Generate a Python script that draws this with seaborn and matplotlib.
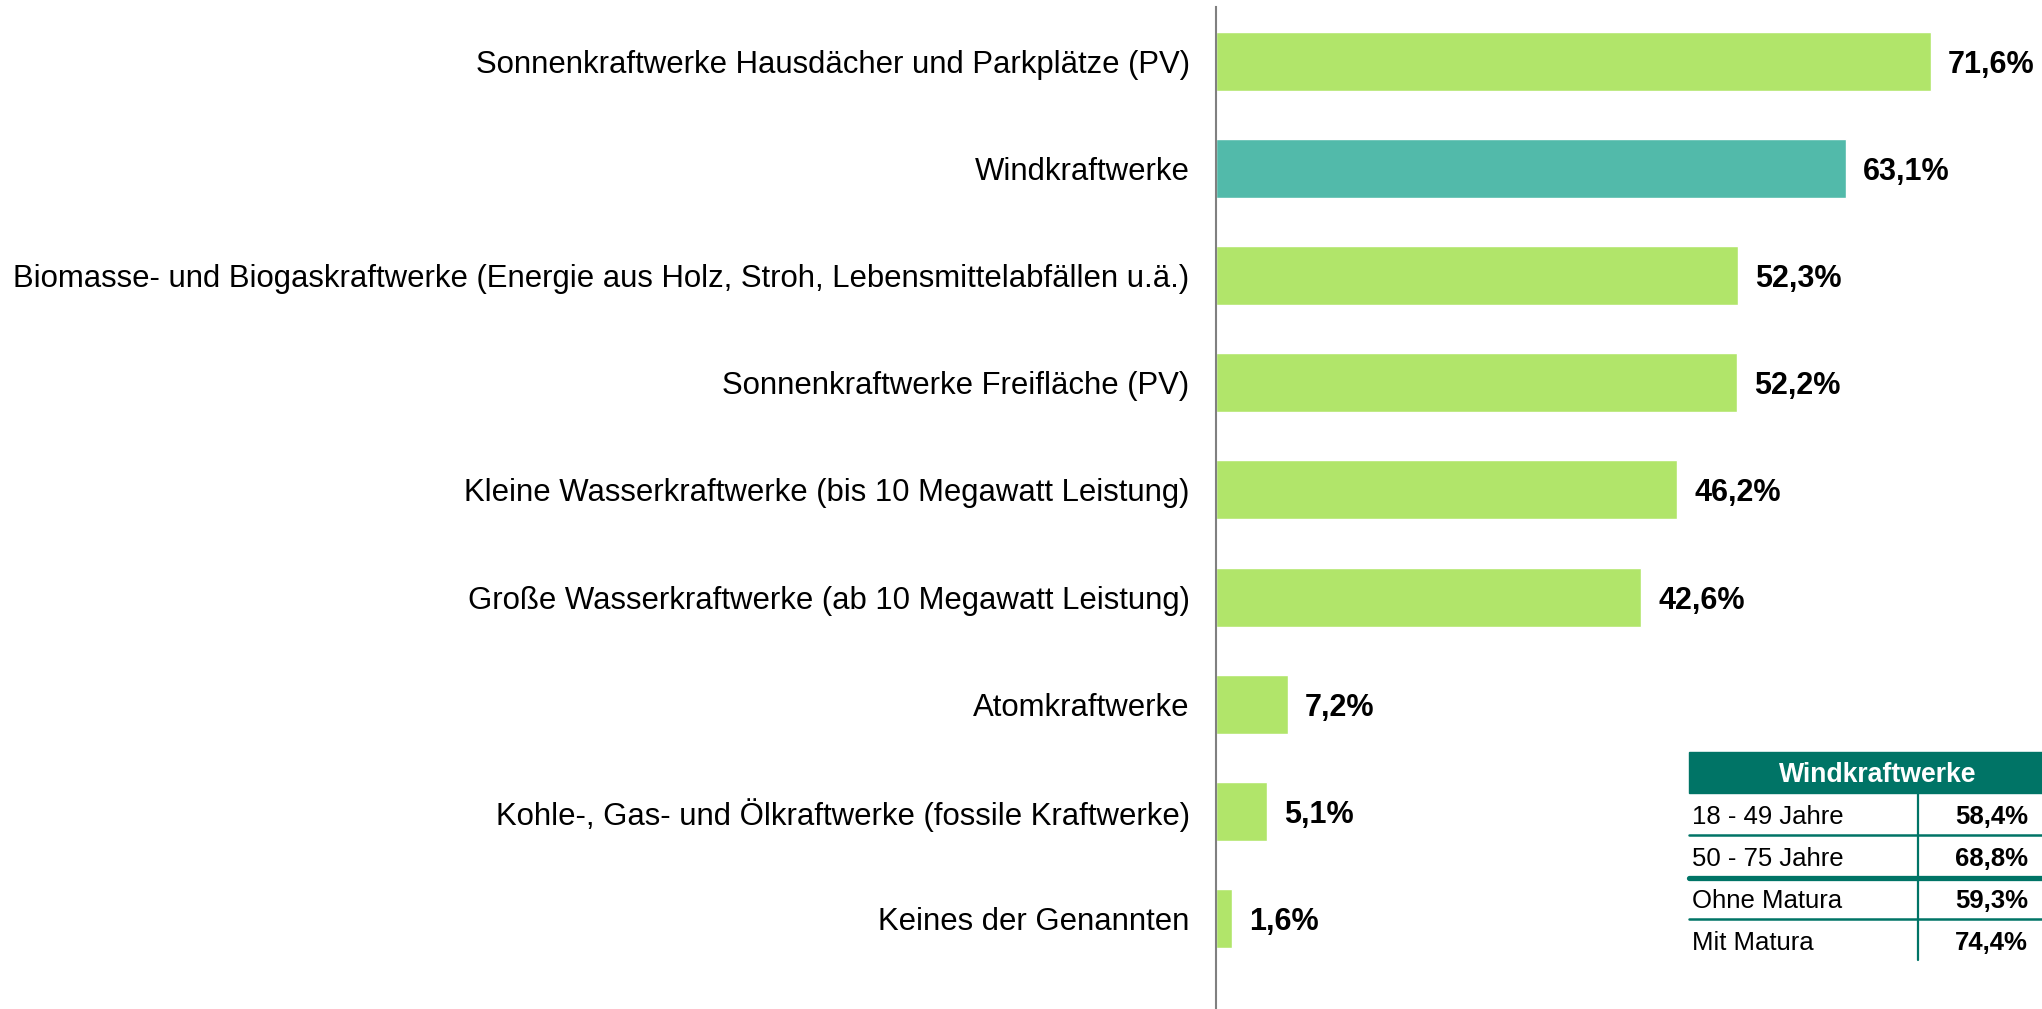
import matplotlib
matplotlib.use("Agg")
import matplotlib.pyplot as plt
import seaborn as sns
import pandas as pd
from matplotlib.patches import Rectangle
from matplotlib.lines import Line2D

categories = [
    "Sonnenkraftwerke Hausdächer und Parkplätze (PV)",
    "Windkraftwerke",
    "Biomasse- und Biogaskraftwerke (Energie aus Holz, Stroh, Lebensmittelabfällen u.ä.)",
    "Sonnenkraftwerke Freifläche (PV)",
    "Kleine Wasserkraftwerke (bis 10 Megawatt Leistung)",
    "Große Wasserkraftwerke (ab 10 Megawatt Leistung)",
    "Atomkraftwerke",
    "Kohle-, Gas- und Ölkraftwerke (fossile Kraftwerke)",
    "Keines der Genannten",
]
values = [71.6, 63.1, 52.3, 52.2, 46.2, 42.6, 7.2, 5.1, 1.6]
highlight = "Windkraftwerke"

table_title = "Windkraftwerke"
table_groups = ["18 - 49 Jahre", "50 - 75 Jahre", "Ohne Matura", "Mit Matura"]
table_values = [58.4, 68.8, 59.3, 74.4]

GREEN = "#B1E56A"
TEAL = "#52BAAA"
DARK = "#007466"

sns.set_theme(style="white")
plt.rcParams["font.family"] = ["Liberation Sans", "DejaVu Sans"]

W, H = 2042, 1009
fig = plt.figure(figsize=(W / 100, H / 100), dpi=100)
ax = fig.add_axes([1216 / W, 0, 1 - 1216 / W, 1 - 7.4 / H])

df = pd.DataFrame({"cat": categories, "val": values})
df["grp"] = ["hl" if c == highlight else "base" for c in df["cat"]]
sns.barplot(data=df, x="val", y="cat", hue="grp", palette={"base": GREEN, "hl": TEAL},
            dodge=False, width=0.55, legend=False, ax=ax, saturation=1)

ax.set_xlim(0, 82.7)
ax.set_ylim(8.84, -0.5)
ax.set_xlabel("")
ax.set_ylabel("")
ax.set_xticks([])
for s in ["top", "right", "bottom"]:
    ax.spines[s].set_visible(False)
ax.spines["left"].set_color("#808080")
ax.spines["left"].set_linewidth(1.5)
ax.tick_params(axis="y", length=0, pad=19, labelsize=22.4, labelcolor="black")

for i, v in enumerate(values):
    ax.text(v + 1.7, i, f"{v:.1f}%".replace(".", ","), va="center_baseline", ha="left",
            fontsize=22, fontweight="bold", color="black")

# side table, placed in figure pixel coords
def fx(x):
    return x / W

def fy(y):
    return 1 - y / H

x0, x1, xdiv = 1689, 2042, 1918
fig.patches.append(Rectangle((fx(x0), fy(793)), fx(x1 - x0), (793 - 752) / H,
                             transform=fig.transFigure, color=DARK, zorder=3))
fig.text(fx(1878), fy(772), table_title, ha="center", va="center_baseline", color="white",
         fontsize=19.2, fontweight="bold")

row_centers = [815, 857, 899, 941]
row_lines = [835, 878, 919]
for yc, g, v in zip(row_centers, table_groups, table_values):
    fig.text(fx(1692), fy(yc), g, ha="left", va="center_baseline", fontsize=18.5, color="black")
    fig.text(fx(2028), fy(yc), f"{v:.1f}%".replace(".", ","), ha="right", va="center_baseline",
             fontsize=18.5, fontweight="bold", color="black")
for k, yl in enumerate(row_lines):
    lw = 3.8 if k == 1 else 1.8
    fig.add_artist(Line2D([fx(x0), fx(x1)], [fy(yl), fy(yl)], color=DARK, lw=lw,
                          transform=fig.transFigure))
fig.add_artist(Line2D([fx(xdiv), fx(xdiv)], [fy(793), fy(960)], color=DARK,
                      lw=1.6, transform=fig.transFigure))

fig.savefig("out.png", dpi=100)
